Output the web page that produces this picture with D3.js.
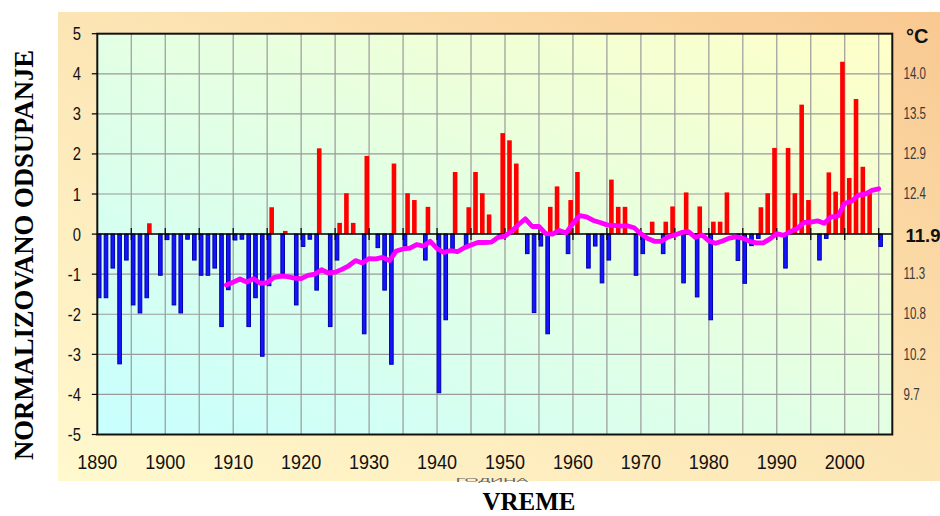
<!DOCTYPE html>
<html><head><meta charset="utf-8">
<script src="https://cdn.jsdelivr.net/npm/d3@7"></script>
<style>html,body{margin:0;padding:0;background:#fff;}svg{display:block}</style>
</head><body>
<svg id="c" width="940" height="516"></svg>
<script>
// ---------- data ----------
const years = d3.range(1890, 2006);
const anomaly = [
 -1.60,-1.60,-0.86,-3.25,-0.66,-1.78,-1.98,-1.60,0.27,-1.04,
 -0.15,-1.78,-1.98,-0.14,-0.66,-1.04,-1.04,-0.86,-2.32,-1.40,
 -0.16,-0.14,-2.32,-1.60,-3.06,-1.30,0.67,-0.99,0.08,-1.78,
 -0.32,-0.14,-1.41,2.14,-2.32,-0.66,0.28,1.02,0.28,-2.50,
 1.95,-0.35,-1.41,-3.26,1.76,-0.31,1.02,0.85,-0.66,0.68,
 -3.97,-2.15,-0.37,1.55,-0.31,0.67,1.55,1.02,0.49,-0.06,
 2.52,2.34,1.76,-0.50,-1.97,-0.31,-2.50,0.68,1.19,-0.50,
 0.85,1.55,-0.86,-0.31,-1.23,-0.66,1.36,0.68,0.68,-1.04,
 -0.50,0.00,0.31,-0.50,0.31,0.69,-1.23,1.04,-1.58,0.69,
 -2.15,0.31,0.31,1.04,-0.67,-1.24,-0.30,-0.12,0.67,1.02,
 2.15,-0.86,2.15,1.02,3.23,0.85,-0.66,-0.12,1.54,1.06,
 4.30,1.40,3.37,1.68,1.02,-0.32
];
const maYears = d3.range(1909, 2006);
const movingAvg = [
 -1.27,
 -1.20,-1.12,-1.20,-1.11,-1.23,-1.21,-1.08,-1.05,-1.06,-1.10,
 -1.11,-1.03,-1.00,-0.89,-0.97,-0.95,-0.88,-0.79,-0.66,-0.72,
 -0.61,-0.62,-0.58,-0.66,-0.42,-0.37,-0.35,-0.26,-0.30,-0.18,
 -0.36,-0.46,-0.41,-0.44,-0.34,-0.27,-0.21,-0.21,-0.20,-0.08,
 -0.05,0.08,0.24,0.38,0.19,0.19,0.01,0.00,0.09,0.03,
 0.27,0.46,0.43,0.34,0.29,0.23,0.22,0.20,0.21,0.16,
 0.01,-0.11,-0.18,-0.18,-0.07,-0.02,0.04,0.06,-0.08,-0.02,
 -0.17,-0.23,-0.17,-0.10,-0.07,-0.10,-0.18,-0.22,-0.22,-0.12,
 0.01,-0.03,0.06,0.14,0.29,0.30,0.33,0.27,0.43,0.45,
 0.77,0.82,0.97,1.00,1.09,1.13
];
const yTicks = [-5,-4,-3,-2,-1,0,1,2,3,4,5];
const xTickLabels = [1890,1900,1910,1920,1930,1940,1950,1960,1970,1980,1990,2000];
const gridYears = [1895,1900,1905,1910,1915,1920,1925,1930,1935,1940,1945,1950,1955,1960,1965,1970,1975,1980,1985,1990,1995,2000,2005];
const tempLabels = ["14.0","13.5","12.9","12.4","11.3","10.8","10.2","9.7"];
const tempLabelAt = [4,3,2,1,-1,-2,-3,-4];
const tempZeroLabel = "11.9";

// ---------- setup ----------
const svg = d3.select("#c");
const L = 97.3, R = 892.3, T = 33.7, B = 434.5;
const x = d3.scaleLinear().domain([1890, 2007]).range([L, R]);
const y = d3.scaleLinear().domain([-5, 5]).range([B, T]);
const sans = "'Liberation Sans', Arial, sans-serif";
const serif = "'Liberation Serif', 'Times New Roman', serif";

const defs = svg.append("defs");
const og = defs.append("linearGradient").attr("id","outerG").attr("x1",0).attr("y1",1).attr("x2",1).attr("y2",0);
og.append("stop").attr("offset",0).attr("stop-color","#FFF9CE");
og.append("stop").attr("offset",0.55).attr("stop-color","#FCE3B2");
og.append("stop").attr("offset",1).attr("stop-color","#F9C890");
const pg = defs.append("linearGradient").attr("id","plotG").attr("x1",0).attr("y1",1).attr("x2",1).attr("y2",0);
pg.append("stop").attr("offset",0).attr("stop-color","#C8FFFF");
pg.append("stop").attr("offset",1).attr("stop-color","#FFFFC8");

function condense(sel, f){
  sel.each(function(){
    const w = this.getComputedTextLength();
    d3.select(this).attr("textLength", w*f).attr("lengthAdjust","spacingAndGlyphs");
  });
}

// outer chart area
svg.append("rect").attr("x",58).attr("y",12).attr("width",882).attr("height",469).attr("fill","url(#outerG)");

// plot area
svg.append("rect").attr("x",L).attr("y",T).attr("width",R-L).attr("height",B-T).attr("fill","url(#plotG)");

// grid
const grid = svg.append("g").attr("stroke","#9a9a9a").attr("stroke-width",1.2);
grid.selectAll("line.h").data(yTicks.filter(d=>d!==0 && d!==5 && d!==-5)).join("line")
  .attr("x1",L).attr("x2",R).attr("y1",d=>y(d)).attr("y2",d=>y(d));
grid.selectAll("line.v").data(gridYears).join("line")
  .attr("x1",d=>x(d)).attr("x2",d=>x(d)).attr("y1",T).attr("y2",B);

// bars
const data = years.map((yr,i)=>({yr, v: anomaly[i]})).filter(d=>d.v!==0);
svg.append("g").selectAll("rect").data(data.filter(d=>d.v>0)).join("rect")
  .attr("x",d=>x(d.yr)-4.6).attr("width",4.6)
  .attr("y",d=>y(d.v)).attr("height",d=>y(0)-y(d.v))
  .attr("fill","#FF0000");
svg.append("g").selectAll("rect").data(data.filter(d=>d.v<0)).join("rect")
  .attr("x",d=>x(d.yr)+0.1).attr("width",3.6)
  .attr("y",y(0)).attr("height",d=>Math.max(0.5, y(d.v)-y(0)-0.5))
  .attr("fill","#1414FF").attr("stroke","#0000A8").attr("stroke-width",1);

// zero axis with cross ticks
svg.append("line").attr("x1",L).attr("x2",R).attr("y1",y(0)).attr("y2",y(0))
  .attr("stroke","#000").attr("stroke-width",1.5);
svg.append("g").selectAll("line").data(gridYears).join("line")
  .attr("x1",d=>x(d)).attr("x2",d=>x(d)).attr("y1",y(0)-6).attr("y2",y(0)+6)
  .attr("stroke","#000").attr("stroke-width",1.2);

// moving average line
const line = d3.line().x(d=>x(d[0])).y(d=>y(d[1])).curve(d3.curveLinear);
svg.append("path").datum(maYears.map((yr,i)=>[yr, movingAvg[i]]))
  .attr("d",line).attr("fill","none").attr("stroke","#FF00FF")
  .attr("stroke-width",4.8).attr("stroke-linejoin","round").attr("stroke-linecap","round");

// border
svg.append("rect").attr("x",L).attr("y",T).attr("width",R-L).attr("height",B-T)
  .attr("fill","none").attr("stroke","#111").attr("stroke-width",2);

// left axis ticks & labels
svg.append("g").selectAll("line").data(yTicks).join("line")
  .attr("x1",L-5.5).attr("x2",L).attr("y1",d=>y(d)).attr("y2",d=>y(d))
  .attr("stroke","#000").attr("stroke-width",1.2);
const yl = svg.append("g").selectAll("text").data(yTicks).join("text")
  .attr("x",81).attr("y",d=>y(d)+6.5).attr("text-anchor","end")
  .attr("font-family",sans).attr("font-size",18).attr("fill","#111")
  .text(d=>d);
condense(yl, 0.82);

// x labels
const xl = svg.append("g").selectAll("text").data(xTickLabels).join("text")
  .attr("x",d=>x(d)).attr("y",469).attr("text-anchor","middle")
  .attr("font-family",sans).attr("font-size",20).attr("fill","#111")
  .text(d=>d);
condense(xl, 0.9);

// right temperature labels
const rl = svg.append("g").selectAll("text").data(tempLabels).join("text")
  .attr("x",903.5).attr("y",(d,i)=>y(tempLabelAt[i])+5.2)
  .attr("font-family",sans).attr("font-size",17).attr("fill","#3a3a3a")
  .text(d=>d);
condense(rl, 0.68);
svg.append("text").attr("x",905.5).attr("y",y(0)+7.5)
  .attr("font-family",sans).attr("font-size",18.5).attr("font-weight","bold").attr("fill","#111")
  .text(tempZeroLabel);
svg.append("text").attr("x",906).attr("y",43)
  .attr("font-family",sans).attr("font-size",20).attr("font-weight","bold").attr("fill","#111")
  .text("°C");

// axis title of the original, almost hidden at the chart area's lower edge
svg.append("text").attr("transform","translate(492,481.5) scale(1,0.3)")
  .attr("text-anchor","middle")
  .attr("font-family",sans).attr("font-size",18).attr("fill","#666")
  .text("ГОДИНА");

// titles
svg.append("text").attr("transform","translate(33,255) rotate(-90)")
  .attr("text-anchor","middle").attr("font-family",serif).attr("font-weight","bold")
  .attr("font-size",28).attr("fill","#000")
  .attr("textLength",410).attr("lengthAdjust","spacingAndGlyphs")
  .text("NORMALIZOVANO ODSUPANJE");
svg.append("text").attr("x",529).attr("y",510)
  .attr("text-anchor","middle").attr("font-family",serif).attr("font-weight","bold")
  .attr("font-size",26).attr("fill","#000")
  .attr("textLength",93).attr("lengthAdjust","spacingAndGlyphs")
  .text("VREME");
</script>
</body></html>
